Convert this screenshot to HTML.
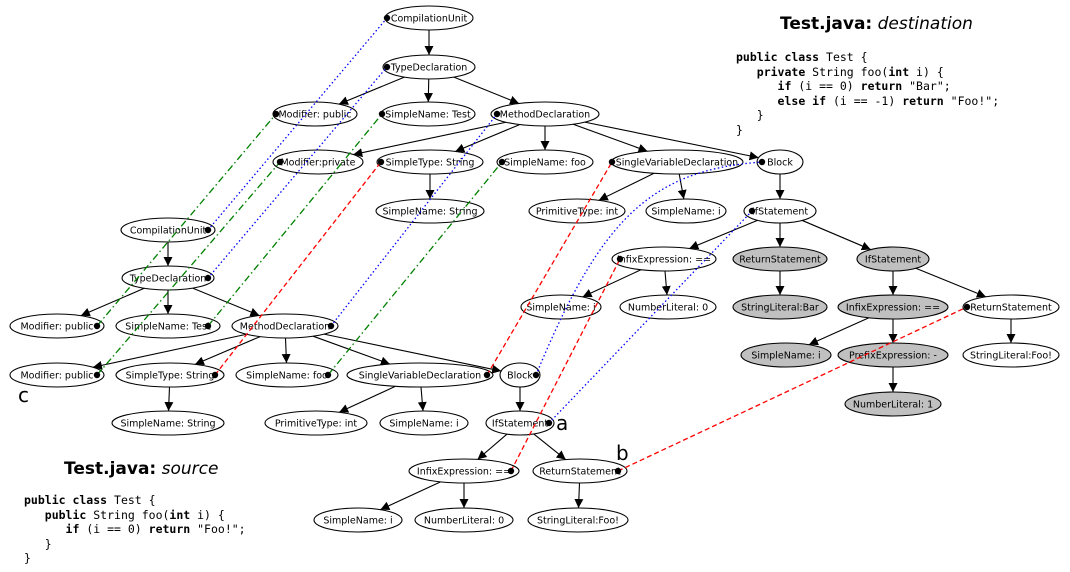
<!DOCTYPE html>
<html><head><meta charset="utf-8">
<style>
body{margin:0;background:#fff;width:1070px;height:572px;overflow:hidden;font-family:"DejaVu Sans","Liberation Sans",sans-serif}
svg{position:absolute;left:0;top:0}
.code{position:absolute;font-family:"DejaVu Sans Mono","Liberation Mono",monospace;font-size:11.5px;line-height:14.6px;white-space:pre;color:#000}
.ttl{position:absolute;font-size:17px;font-family:"DejaVu Sans",sans-serif}
.lab{position:absolute;font-size:20px;font-family:"DejaVu Sans",sans-serif}
</style></head><body>
<svg id="s" width="1070" height="572" xmlns="http://www.w3.org/2000/svg">
<defs><marker id="ar" viewBox="0 0 10 10" refX="10" refY="5" markerWidth="9" markerHeight="9" markerUnits="userSpaceOnUse" orient="auto"><path d="M0,0L10,5L0,10z" fill="#000"/></marker></defs>
<g id="edges"></g><g id="nodes"></g><g id="maps"></g>
</svg>
<div class="ttl" style="left:780px;top:14px"><b>Test.java:</b> <i>destination</i></div>
<div class="ttl" style="left:64px;top:459px"><b>Test.java:</b> <i>source</i></div>
<div class="lab" style="left:18px;top:383px">c</div>
<div class="lab" style="left:556px;top:411px">a</div>
<div class="lab" style="left:616px;top:441px">b</div>
<div class="code" style="left:736px;top:50px"><b>public class</b> Test {
   <b>private</b> String foo(<b>int</b> i) {
      <b>if</b> (i == 0) <b>return</b> "Bar";
      <b>else if</b> (i == -1) <b>return</b> "Foo!";
   }
}</div>
<div class="code" style="left:24px;top:493px"><b>public class</b> Test {
   <b>public</b> String foo(<b>int</b> i) {
      <b>if</b> (i == 0) <b>return</b> "Foo!";
   }
}</div>
<script>
var N={
dCU:[429,18,44,"CompilationUnit"],dTD:[429,67,46,"TypeDeclaration"],dMP:[315,114,42,"Modifier: public"],dSNT:[428,114,47,"SimpleName: Test"],dMD:[545,114,54,"MethodDeclaration"],
dMPr:[318,162,45,"Modifier:private"],dST:[430,162,53,"SimpleType: String"],dSNF:[545,162,48,"SimpleName: foo"],dSVD:[677,162,66,"SingleVariableDeclaration"],dBl:[780,162,23,"Block"],
dSNS:[430,211,54,"SimpleName: String"],dPT:[577,211,48,"PrimitiveType: int"],dSNI:[686,211,40,"SimpleName: i"],dIf:[780,211,36,"IfStatement"],
dIE:[664,259,52,"InfixExpression: =="],dRS:[780,259,47,"ReturnStatement",1],dIf2:[893,259,36,"IfStatement",1],
dSNi2:[561,307,40,"SimpleName: i"],dNL0:[668,307,48,"NumberLiteral: 0"],dSLB:[780,307,47,"StringLiteral:Bar",1],dIE2:[893,307,55,"InfixExpression: ==",1],dRS2:[1011,307,48,"ReturnStatement"],
dSNi3:[786,355,45,"SimpleName: i",1],dPE:[893,355,55,"PrefixExpression: -",1],dSLF:[1011,355,48,"StringLiteral:Foo!"],dNL1:[893,404,48,"NumberLiteral: 1",1],
sCU:[168,230,47,"CompilationUnit"],sTD:[168,278,46,"TypeDeclaration"],sMP:[57,326,47,"Modifier: public"],sSNT:[168,326,52,"SimpleName: Test"],sMD:[285,326,53,"MethodDeclaration"],
sMP2:[57,375,47,"Modifier: public"],sST:[170,375,54,"SimpleType: String"],sSNF:[287,375,51,"SimpleName: foo"],sSVD:[420,375,73,"SingleVariableDeclaration"],sBl:[520,375,20,"Block"],
sSNS:[168,423,56,"SimpleName: String"],sPT:[316,423,51,"PrimitiveType: int"],sSNI:[424,423,44,"SimpleName: i"],sIf:[520,423,34,"IfStatement"],
sIE:[464,471,55,"InfixExpression: =="],sRS:[580,471,47,"ReturnStatement"],sSNi:[358,520,44,"SimpleName: i"],sNL0:[464,520,49,"NumberLiteral: 0"],sSLF:[578,520,50,"StringLiteral:Foo!"]};
var E=[["dCU","dTD"],["dTD","dMP"],["dTD","dSNT"],["dTD","dMD"],["dMD","dMPr"],["dMD","dST"],["dMD","dSNF"],["dMD","dSVD"],["dMD","dBl"],["dST","dSNS"],["dSVD","dPT"],["dSVD","dSNI"],["dBl","dIf"],["dIf","dIE"],["dIf","dRS"],["dIf","dIf2"],["dIE","dSNi2"],["dIE","dNL0"],["dRS","dSLB"],["dIf2","dIE2"],["dIf2","dRS2"],["dIE2","dSNi3"],["dIE2","dPE"],["dRS2","dSLF"],["dPE","dNL1"],
["sCU","sTD"],["sTD","sMP"],["sTD","sSNT"],["sTD","sMD"],["sMD","sMP2"],["sMD","sST"],["sMD","sSNF"],["sMD","sSVD"],["sMD","sBl"],["sST","sSNS"],["sSVD","sPT"],["sSVD","sSNI"],["sBl","sIf"],["sIf","sIE"],["sIf","sRS"],["sIE","sSNi"],["sIE","sNL0"],["sRS","sSLF"]];
var NS="http://www.w3.org/2000/svg",RY=12;
function el(t,a,p){var e=document.createElementNS(NS,t);for(var k in a)e.setAttribute(k,a[k]);document.getElementById(p).appendChild(e);return e;}
function clip(n,dx,dy){var t=1/Math.sqrt((dx/n[2])*(dx/n[2])+(dy/RY)*(dy/RY));return [n[0]+dx*t,n[1]+dy*t];}
E.forEach(function(e){var a=N[e[0]],b=N[e[1]];var dx=b[0]-a[0],dy=b[1]-a[1];var p=clip(a,dx,dy),q=clip(b,-dx,-dy);
el("line",{x1:p[0],y1:p[1],x2:q[0],y2:q[1],stroke:"#000","stroke-width":1.1,"marker-end":"url(#ar)"},"edges");});
for(var k in N){var n=N[k];el("ellipse",{cx:n[0],cy:n[1],rx:n[2],ry:RY,fill:n[4]?"#c0c0c0":"#fff",stroke:"#000","stroke-width":1.1},"nodes");
var t=el("text",{x:n[0],y:n[1]+3.5,"text-anchor":"middle","font-size":"9.5","font-family":"DejaVu Sans, Liberation Sans, sans-serif"},"nodes");t.textContent=n[3];}
var M=[["b",208,230,387,18],["b",208,278,387,67],["b",331,326,497,114],["b",536,375,762,162,1],["b",549,423,752,211],
["g",97,326,276,114],["g",208,326,382,114],["g",97,375,280,162],["g",328,375,502,162],
["r",215,375,381,162],["r",487,375,612,162],["r",511,471,620,259],["r",618,471,967,307]];
var C={b:["#0000ff","1.5,2.5"],g:["#008000","7,3,1.5,3"],r:["#ff0000","5,3"]};
M.forEach(function(m){var c=C[m[0]];var d=m[5]?"M"+m[1]+","+m[2]+" C600,220 650,170 "+m[3]+","+m[4]:"M"+m[1]+","+m[2]+"L"+m[3]+","+m[4];
el("path",{d:d,fill:"none",stroke:c[0],"stroke-width":1.3,"stroke-dasharray":c[1]},"maps");
el("circle",{cx:m[1],cy:m[2],r:3.2,fill:"#000"},"maps");el("circle",{cx:m[3],cy:m[4],r:3.2,fill:"#000"},"maps");});
</script>
</body></html>
